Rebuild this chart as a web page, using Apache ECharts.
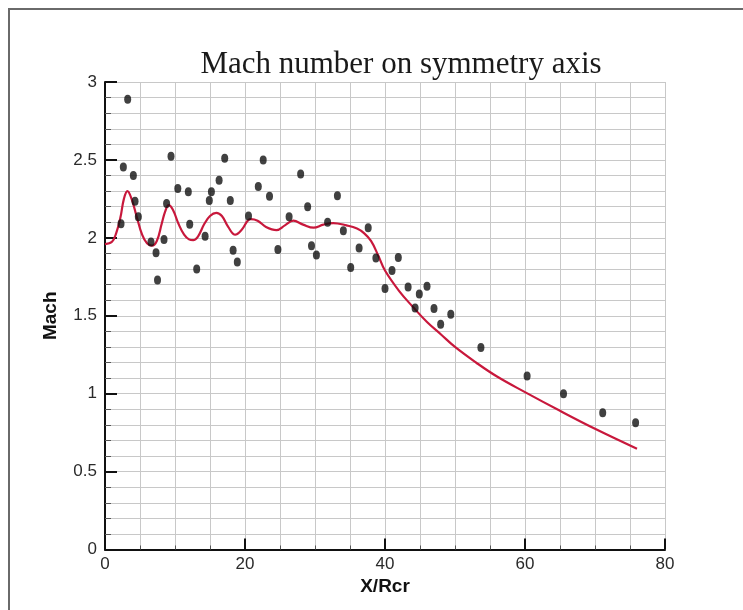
<!DOCTYPE html>
<html>
<head>
<meta charset="utf-8">
<script src="https://cdn.jsdelivr.net/npm/echarts@6/dist/echarts.min.js"></script>
<style>
html,body{margin:0;padding:0;background:#fff;}
#c{width:743px;height:610px;}
</style>
</head>
<body>
<div id="c"></div>
<script>
// Numerical solution (red curve)
var curveX = [0, 1, 1.6, 2.2, 2.7, 3.2, 3.8, 4.5, 5.3, 6.0, 6.7, 7.4, 8.1, 8.6, 9.1, 9.7, 10.5, 11.3, 12.0, 12.6, 13.3, 14.2, 15.0, 15.9, 16.7, 17.6, 18.6, 19.5, 20.8, 21.8, 23.0, 24.5, 25.7, 26.9, 28.3, 29.8, 31.2, 32.6, 34.5, 36, 37, 38, 39, 40, 42, 44, 46, 48, 50, 53, 56, 60, 65, 70, 76];
var curveY = [1.96, 1.975, 2.03, 2.13, 2.25, 2.30, 2.25, 2.14, 2.02, 1.965, 1.95, 1.98, 2.09, 2.17, 2.21, 2.18, 2.09, 2.02, 1.99, 1.985, 2.01, 2.09, 2.14, 2.16, 2.14, 2.07, 2.02, 2.05, 2.12, 2.11, 2.07, 2.05, 2.08, 2.11, 2.085, 2.065, 2.085, 2.095, 2.08, 2.06, 2.03, 1.98, 1.89, 1.79, 1.66, 1.556, 1.46, 1.38, 1.30, 1.20, 1.11, 1.01, 0.89, 0.775, 0.647];
// Experimental points (black dots)
var dotX = [3.24, 2.62, 4.05, 4.29, 4.76, 2.29, 9.43, 10.4, 11.9, 8.8, 12.1, 6.57, 7.29, 8.43, 13.1, 7.5, 17.1, 16.3, 15.2, 14.9, 17.9, 14.3, 18.3, 18.9, 22.6, 21.9, 23.5, 20.5, 24.7, 26.3, 28.95, 27.95, 33.2, 29.5, 30.2, 31.8, 34.05, 37.6, 36.3, 35.1, 38.7, 41.9, 41.0, 40.0, 43.3, 44.9, 46.0, 44.3, 47.0, 47.95, 49.4, 53.7, 60.3, 65.5, 71.1, 75.8];
var dotY = [2.89, 2.455, 2.40, 2.235, 2.135, 2.09, 2.524, 2.317, 2.296, 2.22, 2.087, 1.974, 1.904, 1.99, 1.80, 1.73, 2.51, 2.37, 2.296, 2.24, 2.24, 2.01, 1.92, 1.845, 2.50, 2.33, 2.267, 2.14, 1.925, 2.135, 2.20, 2.41, 2.27, 1.95, 1.89, 2.10, 2.045, 2.065, 1.935, 1.81, 1.87, 1.873, 1.79, 1.675, 1.685, 1.64, 1.69, 1.55, 1.546, 1.445, 1.51, 1.297, 1.113, 1.0, 0.877, 0.813];

var curveData = curveX.map(function(x, i){ return [x, curveY[i]]; });
var dotData = dotX.map(function(x, i){ return [x, dotY[i]]; });

var chart = echarts.init(document.getElementById('c'), null, {renderer:'canvas'});
var gridColor = '#c8c8c8';
chart.setOption({
  backgroundColor: '#ffffff',
  animation: false,
  title: {
    text: 'Mach number on symmetry axis',
    left: 396, top: 44, textAlign: 'center',
    textStyle: {fontFamily: 'Liberation Serif', fontWeight: 'normal', fontSize: 31, color: '#1a1a1a'}
  },
  graphic: [
    {type:'line', shape:{x1:8, y1:9, x2:743, y2:9}, style:{stroke:'#6a6a6a', lineWidth:2}},
    {type:'line', shape:{x1:9, y1:8, x2:9, y2:610}, style:{stroke:'#6a6a6a', lineWidth:2}}
  ],
  grid: {left: 105, right: 78, top: 82, bottom: 60.5, containLabel: false},
  xAxis: {
    type: 'value', min: 0, max: 80, interval: 20,
    name: 'X/Rcr', nameLocation: 'middle', nameGap: 28,
    nameTextStyle: {fontFamily: 'Liberation Sans', fontWeight: 'bold', fontSize: 19, color: '#111'},
    axisLine: {show: true, onZero: false, lineStyle: {color: '#111', width: 2}},
    axisTick: {show: true, inside: true, length: 11, lineStyle: {color: '#111', width: 2}},
    minorTick: {show: true, splitNumber: 4, length: 4, lineStyle: {color: '#555', width: 1}},
    axisLabel: {margin: 6, fontFamily: 'Liberation Sans', fontSize: 17, color: '#2a2a2a'},
    splitLine: {show: true, lineStyle: {color: gridColor, width: 1}},
    minorSplitLine: {show: true, lineStyle: {color: gridColor, width: 1}}
  },
  yAxis: {
    type: 'value', min: 0, max: 3, interval: 0.5,
    name: 'Mach', nameLocation: 'middle', nameGap: 45, nameRotate: 90,
    nameTextStyle: {fontFamily: 'Liberation Sans', fontWeight: 'bold', fontSize: 19, color: '#111'},
    axisLine: {show: true, onZero: false, lineStyle: {color: '#111', width: 2}},
    axisTick: {show: true, inside: true, length: 12, lineStyle: {color: '#111', width: 2}},
    minorTick: {show: true, splitNumber: 5, length: 6, lineStyle: {color: '#555', width: 1}},
    axisLabel: {margin: 8, fontFamily: 'Liberation Sans', fontSize: 17, color: '#2a2a2a'},
    splitLine: {show: true, lineStyle: {color: gridColor, width: 1}},
    minorSplitLine: {show: true, lineStyle: {color: gridColor, width: 1}}
  },
  series: [
    {
      type: 'line', data: curveData, smooth: 0.4, showSymbol: false, symbol: 'none',
      lineStyle: {color: '#c8183c', width: 2.2}, z: 3
    },
    {
      type: 'scatter', data: dotData, symbol: 'circle', symbolSize: [7, 9],
      itemStyle: {color: '#111'}, z: 4
    }
  ]
});
</script>
</body>
</html>
